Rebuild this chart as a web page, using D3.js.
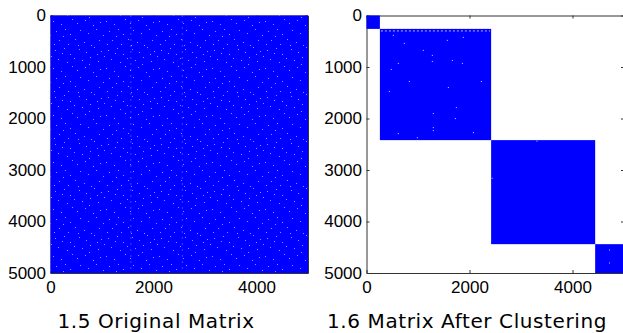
<!DOCTYPE html>
<html>
<head>
<meta charset="utf-8">
<script src="https://cdn.jsdelivr.net/npm/d3@7"></script>
<style>
  body { margin: 0; background: #fff; }
  .tick text { font-family: 'Liberation Sans', Arial, sans-serif; font-size: 17px; fill: #000; }
  .domain, .tick line { stroke: #333; }
  .caption { font-family: 'DejaVu Sans', sans-serif; font-size: 20px; letter-spacing: 0.6px; }
</style>
</head>
<body>
<svg id="chart" width="623" height="333"></svg>
<script>
// matrix size and ticks
var N = 5000;
var yTicks = [ 0, 1000, 2000, 3000, 4000, 5000 ];
var xTicks = [ 0, 2000, 4000 ];
var captions = [ '1.5 Original Matrix', '1.6 Matrix After Clustering' ];

// nearly empty columns in the original matrix
var sparseCols = [ 1560, 2560 ];

// cluster boundaries after reordering (row/col index)
var clusters = [ [ 0, 260 ], [ 260, 2420 ], [ 2420, 4440 ], [ 4440, 5000 ] ];

// zero entries inside the clustered blocks [col, row]
var holes = [
  [ 511, 376 ], [ 608, 921 ], [ 725, 532 ], [ 472, 1038 ], [ 1094, 668 ], [ 1269, 765 ],
  [ 1269, 882 ], [ 822, 1271 ], [ 1580, 1388 ], [ 1658, 863 ], [ 1735, 1778 ], [ 1716, 1992 ],
  [ 1288, 1894 ], [ 1288, 2167 ], [ 1288, 2225 ], [ 433, 1466 ], [ 1560, 473 ], [ 1871, 415 ],
  [ 1852, 921 ], [ 2221, 1271 ], [ 2066, 2264 ], [ 608, 2284 ], [ 977, 2362 ],
  [ 4709, 4543 ], [ 4709, 4796 ], [ 3300, 2430 ], [ 2430, 3150 ]
];
// sparse row along the top of cluster 2
var sparseRow = { row: 300, from: 280, to: 2400 };

var svg = d3.select( '#chart' );
var blue = '#0000ff';
var top0 = 15.5, size = 257.5;
var panels = [ { x0: 50.5, cx: 156 }, { x0: 366.5, cx: 467 } ];

// speckle texture for the dense matrix (style only)
var defs = svg.append( 'defs' );
var pat = defs.append( 'pattern' )
  .attr( 'id', 'speckle' )
  .attr( 'patternUnits', 'userSpaceOnUse' )
  .attr( 'width', 53 ).attr( 'height', 47 );
[ [2,3],[11,1],[17,7],[26,2],[33,5],[41,0],[48,4],[5,12],[14,15],[21,11],[29,13],[37,10],[45,14],
  [51,9],[0,21],[8,24],[19,19],[24,23],[32,20],[40,25],[47,22],[3,31],[12,29],[17,34],[27,30],
  [35,33],[43,29],[50,35],[6,40],[15,44],[22,39],[31,42],[38,45],[46,40],[10,36],[25,45],[36,17],
  [1,44],[44,7],[9,6] ].forEach( function( p ) {
  pat.append( 'rect' ).attr( 'x', p[ 0 ] ).attr( 'y', p[ 1 ] )
    .attr( 'width', 1 ).attr( 'height', 1 ).attr( 'fill', '#fff' ).attr( 'opacity', 0.55 );
} );

panels.forEach( function( p, i ) {
  var x = d3.scaleLinear().domain( [ 0, N ] ).range( [ p.x0, p.x0 + size ] );
  var y = d3.scaleLinear().domain( [ 0, N ] ).range( [ top0, top0 + size ] );
  var fmt = d3.format( 'd' );
  var g = svg.append( 'g' );

  g.append( 'g' )
    .attr( 'transform', 'translate(' + p.x0 + ',0)' )
    .call( d3.axisLeft( y ).tickValues( yTicks ).tickFormat( fmt ).tickSizeInner( -3 ).tickSizeOuter( 0 ).tickPadding( 4.5 ) );

  g.append( 'g' )
    .attr( 'transform', 'translate(0,' + ( top0 + size ) + ')' )
    .call( d3.axisBottom( x ).tickValues( xTicks ).tickFormat( fmt ).tickSizeInner( -3 ).tickSizeOuter( 0 ).tickPadding( 8 ) );

  g.append( 'g' )
    .attr( 'transform', 'translate(0,' + top0 + ')' )
    .call( d3.axisTop( x ).tickValues( xTicks ).tickSizeInner( -3 ).tickSizeOuter( 0 ).tickFormat( '' ) );

  g.append( 'g' )
    .attr( 'transform', 'translate(' + ( p.x0 + size ) + ',0)' )
    .call( d3.axisRight( y ).tickValues( yTicks ).tickSizeInner( -3 ).tickSizeOuter( 0 ).tickFormat( '' ) );

  if ( i === 0 ) {
    g.append( 'rect' )
      .attr( 'x', x( 0 ) ).attr( 'y', y( 0 ) )
      .attr( 'width', x( N ) - x( 0 ) ).attr( 'height', y( N ) - y( 0 ) )
      .attr( 'fill', blue );
    g.append( 'rect' )
      .attr( 'x', x( 0 ) ).attr( 'y', y( 0 ) )
      .attr( 'width', x( N ) - x( 0 ) ).attr( 'height', y( N ) - y( 0 ) )
      .attr( 'fill', 'url(#speckle)' );
    g.selectAll( '.scol' )
      .data( sparseCols )
      .enter().append( 'line' )
        .attr( 'x1', d => x( d ) ).attr( 'x2', d => x( d ) )
        .attr( 'y1', y( 0 ) ).attr( 'y2', y( N ) )
        .attr( 'stroke', '#fff' ).attr( 'stroke-width', 1 )
        .attr( 'stroke-dasharray', '1,5' ).attr( 'opacity', 0.5 );
  } else {
    g.selectAll( '.block' )
      .data( clusters )
      .enter().append( 'rect' )
        .attr( 'x', d => x( d[ 0 ] ) ).attr( 'y', d => y( d[ 0 ] ) )
        .attr( 'width', d => x( d[ 1 ] ) - x( d[ 0 ] ) )
        .attr( 'height', d => y( d[ 1 ] ) - y( d[ 0 ] ) )
        .attr( 'fill', blue );
    g.append( 'line' )
      .attr( 'x1', x( sparseRow.from ) ).attr( 'x2', x( sparseRow.to ) )
      .attr( 'y1', y( sparseRow.row ) ).attr( 'y2', y( sparseRow.row ) )
      .attr( 'stroke', '#fff' ).attr( 'stroke-width', 1 )
      .attr( 'stroke-dasharray', '2,2' ).attr( 'opacity', 0.7 );
    g.selectAll( '.hole' )
      .data( holes )
      .enter().append( 'rect' )
        .attr( 'x', d => x( d[ 0 ] ) ).attr( 'y', d => y( d[ 1 ] ) )
        .attr( 'width', 1 ).attr( 'height', 1 )
        .attr( 'fill', '#fff' ).attr( 'opacity', 0.8 );
  }

  svg.append( 'text' )
    .attr( 'class', 'caption' )
    .attr( 'x', p.cx ).attr( 'y', 328 )
    .attr( 'text-anchor', 'middle' )
    .text( captions[ i ] );
} );
</script>
</body>
</html>
